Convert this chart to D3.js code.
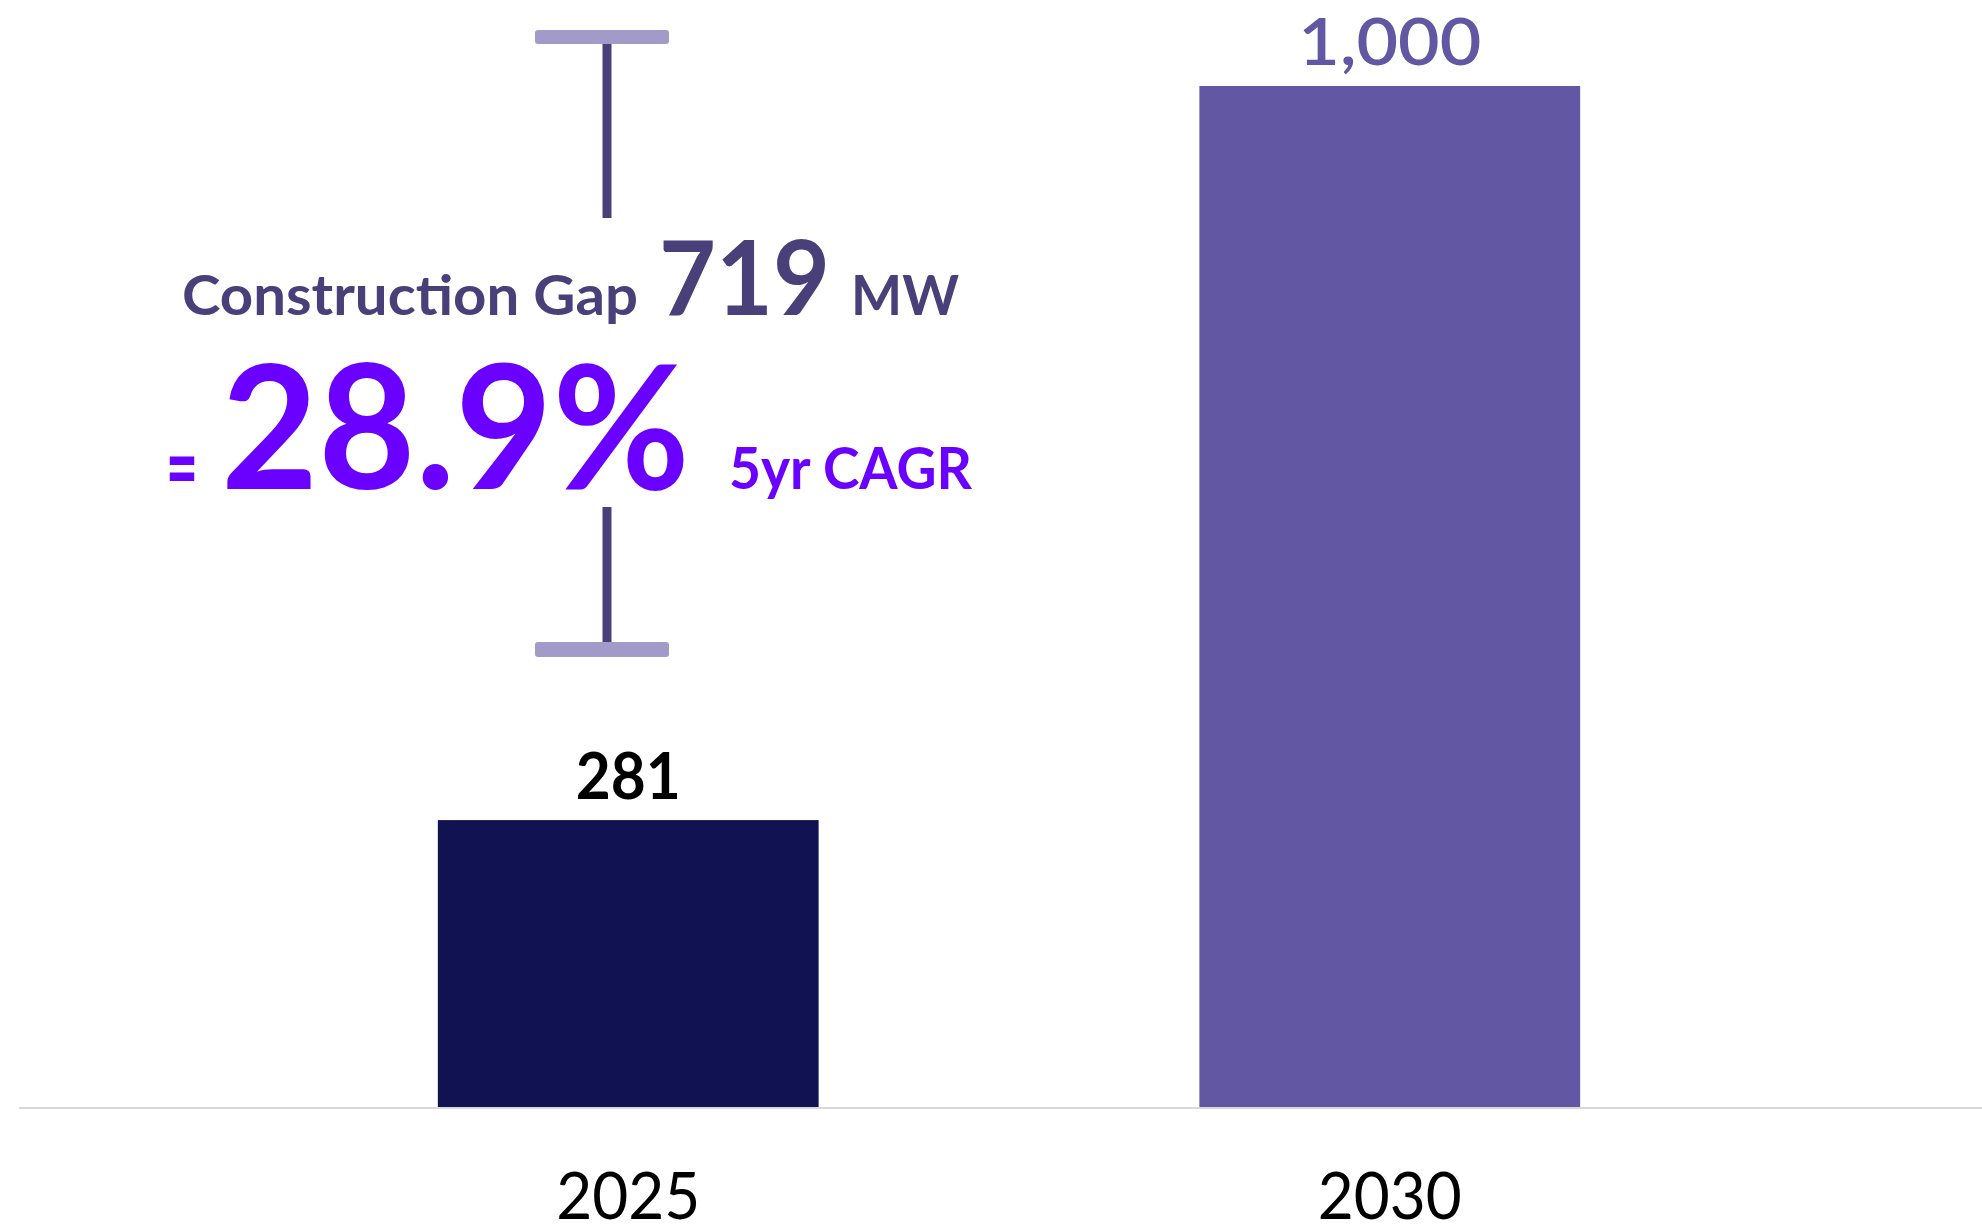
<!DOCTYPE html>
<html>
<head>
<meta charset="utf-8">
<script src="https://cdn.jsdelivr.net/npm/d3@7"></script>
<style>
  html, body { margin: 0; padding: 0; background: #fff; }
  svg { display: block; }
  text { font-family: Lato, "Open Sans", sans-serif; }
</style>
</head>
<body>
<svg id="chart" width="1982" height="1228"></svg>
<script>
// data
const years = ["2025", "2030"];
const capacityMW = [281, 1000];
const barColors = ["#111251", "#6157a2"];
const labelColors = ["#000000", "#6157a2"];
const horizon = 5; // years between the two bars

var svg = d3.select("#chart");
var width = 1982;

var data = years.map((y, i) => ({ year: y, value: capacityMW[i], i: i }));

var x = d3.scaleBand().domain(years).range([19, 1999]).paddingInner(0.5).paddingOuter(0.55);
var y = d3.scaleLinear().domain([0, 1000]).range([1107, 86]);

// bars
svg.selectAll("rect.bar")
  .data(data)
  .enter()
  .append("rect")
  .attr("class", "bar")
  .attr("x", (d) => x(d.year))
  .attr("y", (d) => y(d.value))
  .attr("width", x.bandwidth())
  .attr("height", (d) => y(0) - y(d.value))
  .attr("fill", (d) => barColors[d.i]);

// value labels
svg.selectAll("text.value")
  .data(data)
  .enter()
  .append("text")
  .attr("class", "value")
  .attr("x", (d) => x(d.year) + x.bandwidth() / 2)
  .attr("y", (d) => y(d.value) - 21)
  .attr("text-anchor", "middle")
  .attr("font-size", "65px")
  .attr("font-weight", (d) => (d.i === 0 ? 700 : 600))
  .attr("fill", (d) => labelColors[d.i])
  .attr("textLength", (d) => (d.i === 0 ? 105 : 183))
  .attr("lengthAdjust", "spacingAndGlyphs")
  .text((d) => d3.format(",")(d.value));

// baseline + category labels
var axis = svg.append("g")
  .attr("transform", `translate(0,${y(0)})`)
  .call(d3.axisBottom(x).tickSize(0).tickPadding(112));
axis.select(".domain").remove();
svg.append("line")
  .attr("x1", 19).attr("x2", width)
  .attr("y1", y(0) + 1).attr("y2", y(0) + 1)
  .attr("stroke", "#d9d9d9").attr("stroke-width", 2);
axis.selectAll("text")
  .attr("font-family", "Lato, sans-serif")
  .attr("font-size", "66px")
  .attr("fill", "#000")
  .attr("dy", 0)
  .attr("textLength", 144)
  .attr("lengthAdjust", "spacingAndGlyphs");

// gap bracket (annotation)
var gap = capacityMW[1] - capacityMW[0];
var cagr = Math.pow(capacityMW[1] / capacityMW[0], 1 / horizon) - 1;
var bx = 607;
var ann = svg.append("g");
ann.append("rect").attr("x", bx - 4.5).attr("y", 40).attr("width", 9).attr("height", 178).attr("fill", "#4a4079");
ann.append("rect").attr("x", bx - 4.5).attr("y", 507).attr("width", 9).attr("height", 140).attr("fill", "#4a4079");
ann.append("rect").attr("x", 535).attr("y", 30).attr("width", 134).attr("height", 14).attr("rx", 3).attr("fill", "#a29bca");
ann.append("rect").attr("x", 535).attr("y", 642).attr("width", 134).attr("height", 15).attr("rx", 3).attr("fill", "#a29bca");

function annText(str, xPos, yPos, size, len, color) {
  ann.append("text")
    .attr("x", xPos).attr("y", yPos)
    .attr("font-size", size + "px")
    .attr("font-weight", 700)
    .attr("fill", color)
    .attr("textLength", len)
    .attr("lengthAdjust", "spacingAndGlyphs")
    .text(str);
}
annText("Construction Gap", 182, 315, 56, 456, "#4a4079");
annText(String(gap), 659, 315, 103, 171, "#4a4079");
annText("MW", 851, 315, 56, 108, "#4a4079");
annText("=", 166, 500, 92, 32, "#6a00ff");
annText(d3.format(".1%")(cagr), 221, 489, 172, 469, "#6a00ff");
annText(horizon + "yr CAGR", 729, 489, 57, 243, "#6a00ff");
</script>
</body>
</html>
